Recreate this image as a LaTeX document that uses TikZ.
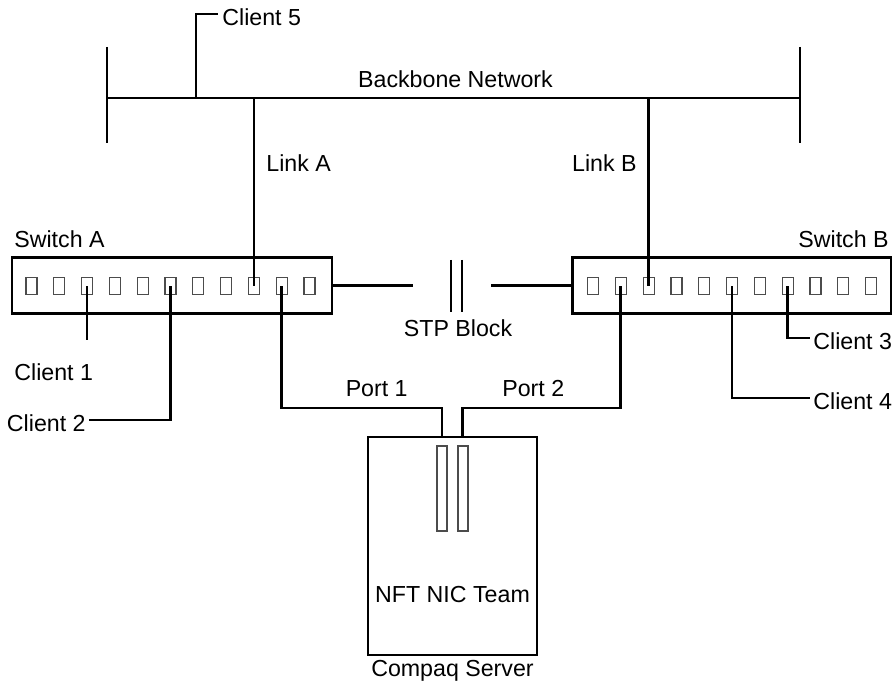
\documentclass[tikz,border=0pt]{standalone}
\usepackage{fontspec}
\setmainfont{Liberation Sans}
\begin{document}
\begin{tikzpicture}[x=0.5pt,y=-0.5pt,line width=1.35pt,
    every node/.style={font=\fontsize{11.6}{13}\selectfont,inner sep=1pt},
    portbox/.style={draw=black!70,line width=0.6pt,minimum width=5.5pt,minimum height=8.6pt,inner sep=0pt},
    nicslot/.style={draw=black!70,line width=0.6pt,minimum width=5pt,minimum height=42.5pt,inner sep=0pt},
    unitbox/.style={draw,inner sep=0pt}]
\useasboundingbox (0,0) rectangle (896,689);

% backbone
\coordinate (bbL) at (107,98);
\coordinate (bbR) at (800,98);
\draw (bbL) -- (bbR);
\draw (107,47) -- (107,143);
\draw (800,47) -- (800,143);
\node[anchor=base] (bbtxt) at (455.5,88) {Backbone Network};
\coordinate (c5knee) at (196,14);
\coordinate (c5end) at (218,14);
\draw (bbL -| c5knee) -- (c5knee) -- (c5end);
\node[anchor=base west] (cl5) at (219,26) {Client 5};

% switches
\node[unitbox,minimum width=160pt,minimum height=28pt] (swA) at (172,285.5) {};
\node[unitbox,minimum width=159.25pt,minimum height=28pt] (swB) at (731.75,285.5) {};
\foreach \i in {1,...,11}
  \node[portbox] (a\i) at ({31.5+27.8*(\i-1)},286.3) {};
\foreach \i in {1,...,11}
  \node[portbox] (b\i) at ({593+27.8*(\i-1)},286.3) {};
\node[anchor=base west] (swAtxt) at (11,248) {Switch A};
\node[anchor=base east] (swBtxt) at (892,248) {Switch B};

% links to backbone
\draw (bbL -| a9) -- (a9.center);
\draw (bbL -| b3) -- (b3.center);
\node[anchor=base west] (lnkA) at (263,171.7) {Link A};
\node[anchor=base east] (lnkB) at (640,171.7) {Link B};

% stp block
\coordinate (stpL) at (413,285.5);
\coordinate (stpR) at (491,285.5);
\draw (swA.east) -- (stpL);
\draw (stpR) -- (swB.west);
\draw (451,260) -- (451,312);
\draw (462,260) -- (462,312);
\node[anchor=base] (stptxt) at (458,336.7) {STP Block};

% clients
\coordinate (c1end) at ([yshift=-27pt]a3.center);
\draw (a3.center) -- (c1end);
\node[anchor=base west] (cl1) at (11,380.7) {Client 1};
\node[anchor=east] (cl2) at (89,423) {Client 2};
\draw (a6.center) |- ([yshift=1.5pt]cl2.east);
\node[anchor=west] (cl3) at (810,341) {Client 3};
\draw (b8.center) |- ([yshift=1.5pt]cl3.west);
\node[anchor=west] (cl4) at (810,401) {Client 4};
\draw (b6.center) |- ([yshift=1.5pt]cl4.west);

% server
\node[unitbox,minimum width=84.5pt,minimum height=109pt] (srv) at (452.5,546) {};
\node[nicslot] (nic1) at (442,488.5) {};
\node[nicslot] (nic2) at (463,488.5) {};
\coordinate (p1knee) at (442,408);
\coordinate (p2knee) at (462.5,408);
\draw (a10.center) |- (p1knee) -- (p1knee |- srv.north);
\draw (b2.center) |- (p2knee) -- (p2knee |- srv.north);
\node[anchor=base east] (p1txt) at (411,396.5) {Port 1};
\node[anchor=base west] (p2txt) at (499,396.5) {Port 2};
\node[anchor=base] (nfttxt) at (452.5,603) {NFT NIC Team};
\node[anchor=base] (srvtxt) at (452.5,677) {Compaq Server};
\end{tikzpicture}
\end{document}
